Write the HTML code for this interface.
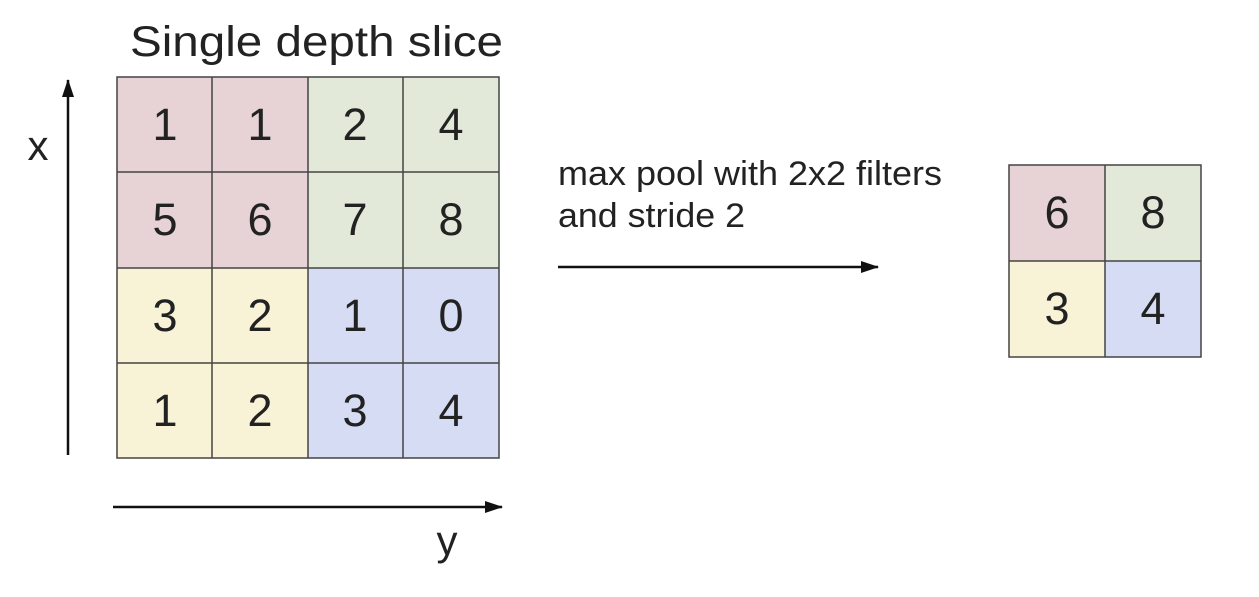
<!DOCTYPE html>
<html><head><meta charset="utf-8"><style>html,body{margin:0;padding:0;background:#fff}svg{display:block}</style></head><body>
<svg width="1259" height="597" xmlns="http://www.w3.org/2000/svg" font-family="Liberation Sans, sans-serif" fill="#222">
<defs><marker id="a" markerWidth="18" markerHeight="12" refX="17" refY="6" orient="auto" markerUnits="userSpaceOnUse"><path d="M0,0 L18,6 L0,12 z" fill="#111"/></marker></defs>
<text x="130" y="56" font-size="43" textLength="373" lengthAdjust="spacingAndGlyphs">Single depth slice</text>
<rect x="117" y="77" width="191" height="191" fill="#e7d2d5"/>
<rect x="308" y="77" width="191" height="191" fill="#e3e9d8"/>
<rect x="117" y="268" width="191" height="190" fill="#f8f2d7"/>
<rect x="308" y="268" width="191" height="190" fill="#d6dcf3"/>
<g stroke="#444" stroke-width="1.5" fill="none">
<rect x="117" y="77" width="382" height="381"/>
<line x1="212" y1="77" x2="212" y2="458"/><line x1="308" y1="77" x2="308" y2="458"/><line x1="403" y1="77" x2="403" y2="458"/>
<line x1="117" y1="172" x2="499" y2="172"/><line x1="117" y1="268" x2="499" y2="268"/><line x1="117" y1="363" x2="499" y2="363"/>
</g>
<g font-size="45" text-anchor="middle">
<text x="165" y="140">1</text><text x="260" y="140">1</text><text x="355" y="140">2</text><text x="451" y="140">4</text>
<text x="165" y="235">5</text><text x="260" y="235">6</text><text x="355" y="235">7</text><text x="451" y="235">8</text>
<text x="165" y="331">3</text><text x="260" y="331">2</text><text x="355" y="331">1</text><text x="451" y="331">0</text>
<text x="165" y="426">1</text><text x="260" y="426">2</text><text x="355" y="426">3</text><text x="451" y="426">4</text>
</g>
<text x="38" y="160" font-size="42" text-anchor="middle">x</text>
<text x="447" y="555" font-size="42" text-anchor="middle">y</text>
<g stroke="#111" stroke-width="2.5">
<line x1="68" y1="455" x2="68" y2="80" marker-end="url(#a)"/>
<line x1="113" y1="507" x2="502" y2="507" marker-end="url(#a)"/>
<line x1="558" y1="267" x2="878" y2="267" marker-end="url(#a)"/>
</g>
<text x="558" y="185" font-size="34" textLength="384" lengthAdjust="spacingAndGlyphs">max pool with 2x2 filters</text>
<text x="558" y="227" font-size="34" textLength="187" lengthAdjust="spacingAndGlyphs">and stride 2</text>
<rect x="1009" y="165" width="96" height="96" fill="#e7d2d5"/>
<rect x="1105" y="165" width="96" height="96" fill="#e3e9d8"/>
<rect x="1009" y="261" width="96" height="96" fill="#f8f2d7"/>
<rect x="1105" y="261" width="96" height="96" fill="#d6dcf3"/>
<g stroke="#444" stroke-width="1.5" fill="none">
<rect x="1009" y="165" width="192" height="192"/>
<line x1="1105" y1="165" x2="1105" y2="357"/><line x1="1009" y1="261" x2="1201" y2="261"/>
</g>
<g font-size="45" text-anchor="middle">
<text x="1057" y="228">6</text><text x="1153" y="228">8</text>
<text x="1057" y="324">3</text><text x="1153" y="324">4</text>
</g>
</svg>
</body></html>
